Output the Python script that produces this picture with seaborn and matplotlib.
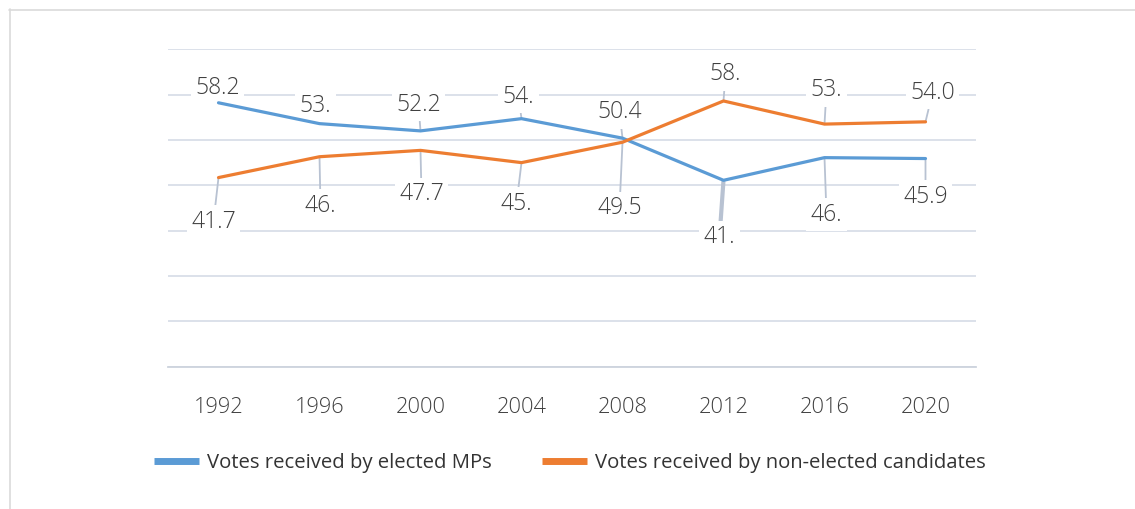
import matplotlib
matplotlib.use("Agg")
import matplotlib.pyplot as plt
from matplotlib.lines import Line2D
import seaborn as sns
import pandas as pd

# ---- data ----
years = ["1992", "1996", "2000", "2004", "2008", "2012", "2016", "2020"]
series_names = ["Votes received by elected MPs", "Votes received by non-elected candidates"]
elected = [58.2, 53.6, 52.0, 54.7, 50.4, 41.1, 46.1, 45.9]
non_elected = [41.7, 46.3, 47.7, 45.0, 49.5, 58.6, 53.5, 54.0]
elected_labels = ["58.2", "53.", "52.2", "54.", "50.4", "41.", "46.", "45.9"]
non_elected_labels = ["41.7", "46.", "47.7", "45.", "49.5", "58.", "53.", "54.0"]

# label offsets in pixels (dx, dy up) and leader widths - styling
elected_off = [(-1, 15), (-4, 18), (-2, 26), (-3, 22), (-3, 26), (-4, -57), (2, -57), (0, -38)]
non_elected_off = [(-5, -44), (1, -49), (1, -44), (-5, -41), (-3, -66), (2, 27), (2, 34), (7, 29)]
elected_lw = [1.3, 1.3, 1.3, 1.3, 1.3, 3.0, 1.3, 1.3]
non_elected_lw = [1.3] * 8

BLUE = "#5B9BD5"
ORANGE = "#ED7D31"
GRID = "#D9DEE8"
TEXT = "#404040"
LEADER = "#B8C2D2"

sns.set_theme(style="white")
FAM = "Open Sans"
plt.rcParams["font.family"] = [FAM, "DejaVu Sans"]
WEIGHT = "light"
LBL_SIZE = 16.5
TICK_SIZE = 15.7
LEG_SIZE = 14.6

df = pd.DataFrame({
    "pos": list(range(len(years))) * 2,
    "value": elected + non_elected,
    "series": [series_names[0]] * len(years) + [series_names[1]] * len(years),
})

fig = plt.figure(figsize=(11.35, 5.09), dpi=100)
ax = fig.add_axes([168 / 1135, 1 - 366.6 / 509, (976 - 168) / 1135, (366.6 - 49.3) / 509])

sns.lineplot(data=df, x="pos", y="value", hue="series", palette=[BLUE, ORANGE],
             linewidth=2.3, ax=ax, legend=True, zorder=3)

ax.set_xlim(-0.5, len(years) - 0.5)
ax.set_ylim(0, 70)
ax.set_yticks(range(0, 71, 10))
ax.yaxis.grid(True, color=GRID, linewidth=1.3)
ax.set_axisbelow(True)
ax.tick_params(axis="y", left=False, labelleft=False)
ax.set_ylabel("")
ax.set_xlabel("")
ax.set_xticks(range(len(years)))
ax.set_xticklabels(years, fontsize=TICK_SIZE, color=TEXT, fontweight=WEIGHT)
ax.set_xticks([i - 0.5 for i in range(len(years) + 1)], minor=True)
ax.tick_params(axis="x", which="major", length=0, pad=22)
ax.tick_params(axis="x", which="minor", length=7, width=1.2, color="#CDD3DD", direction="out")
for s in ["top", "right", "left"]:
    ax.spines[s].set_visible(False)
ax.spines["bottom"].set_color("#CDD3DD")
ax.spines["bottom"].set_linewidth(1.3)

def annotate(vals, labels, offs, lws):
    for i, (v, t, (dx, dy), lw) in enumerate(zip(vals, labels, offs, lws)):
        ax.annotate(t, xy=(i, v), xytext=(dx, dy), textcoords="offset pixels",
                    ha="center", va="center", fontsize=LBL_SIZE, color=TEXT,
                    fontweight=WEIGHT,
                    bbox=dict(boxstyle="square,pad=0.2", fc="white", ec="none"),
                    arrowprops=dict(arrowstyle="-", color=LEADER, lw=lw,
                                    shrinkA=0, shrinkB=1),
                    zorder=2)

annotate(elected, elected_labels, elected_off, elected_lw)
annotate(non_elected, non_elected_labels, non_elected_off, non_elected_lw)

sns.move_legend(ax, "center", bbox_to_anchor=(0.502, 1 - 463 / 509),
                bbox_transform=fig.transFigure, ncol=2, frameon=False, title=None,
                fontsize=LEG_SIZE, handlelength=2.2, handletextpad=0.4, columnspacing=2.5)
leg = ax.get_legend()
for h in leg.legend_handles:
    h.set_linewidth(5)
    h.set_solid_capstyle("butt")
for t in leg.get_texts():
    t.set_color("#333333")

# light frame lines (top and left)
fig.add_artist(Line2D([9 / 1135, 1], [1 - 9.5 / 509, 1 - 9.5 / 509], color="#DADADA", lw=1.2,
                      transform=fig.transFigure))
fig.add_artist(Line2D([9.5 / 1135, 9.5 / 1135], [0, 1 - 9 / 509], color="#DADADA", lw=1.2,
                      transform=fig.transFigure))

fig.savefig("out.png", dpi=100, facecolor="white")
